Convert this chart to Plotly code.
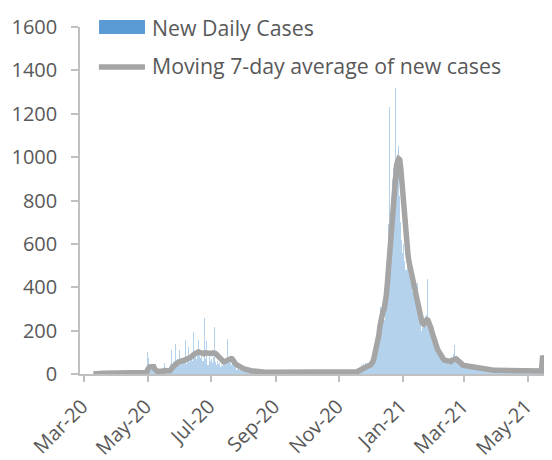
import pandas as pd
import plotly.graph_objects as go

# ---------------- data ----------------
start_date = "2020-03-01"

daily_cases = [
    # Mar 2020
    0, 0, 0, 0, 0, 0, 0, 0, 1, 0, 2, 1, 3, 2, 1, 4, 3, 2, 5, 3, 4, 2, 6, 3, 5, 4, 3, 2, 4, 5, 3,
    # Apr 2020
    3, 5, 4, 6, 2, 5, 7, 4, 3, 6, 5, 4, 8, 3, 5, 6, 4, 7, 5, 3, 6, 4, 5, 8, 3, 2, 6, 4, 9, 12,
    # May 2020
    100, 72, 30, 20, 35, 25, 18, 22, 15, 12, 20, 10, 14, 8, 18, 12, 50, 10, 15, 20, 25, 30, 45, 110,
    40, 55, 60, 138, 45, 70, 50,
    # Jun 2020
    110, 40, 60, 75, 50, 157, 45, 70, 124, 55, 80, 90, 60, 194, 85, 100, 70, 110, 157, 90, 75, 95,
    60, 60, 258, 70, 152, 40, 88, 60,
    # Jul 2020
    70, 50, 80, 217, 55, 40, 60, 45, 50, 30, 40, 35, 60, 55, 70, 45, 161, 60, 50, 78, 40, 55, 30,
    50, 20, 25, 30, 18, 22, 15, 20,
    # Aug 2020
    18, 12, 25, 10, 14, 20, 8, 12, 15, 9, 10, 14, 6, 11, 8, 12, 7, 10, 5, 9, 8, 6, 11, 7, 5, 8, 6,
    9, 4, 7, 5,
    # Sep 2020
    5, 8, 3, 6, 4, 7, 2, 5, 9, 4, 6, 3, 5, 7, 4, 2, 6, 5, 3, 8, 4, 5, 6, 3, 4, 2, 5, 3, 6, 4,
    # Oct 2020
    3, 5, 2, 4, 6, 3, 4, 5, 2, 3, 6, 4, 3, 5, 2, 4, 3, 6, 4, 2, 5, 3, 4, 6, 3, 4, 2, 5, 4, 3, 5,
    # Nov 2020
    3, 4, 5, 2, 6, 4, 3, 5, 4, 6, 3, 5, 4, 6, 5, 8, 12, 20, 15, 25, 30, 40, 35, 45, 30, 50, 40, 35,
    45, 55,
    # Dec 2020
    45, 60, 55, 90, 130, 110, 150, 190, 230, 260, 310, 280, 340, 250, 380, 420, 560, 690, 1230,
    640, 820, 900, 950, 870, 1318, 980, 900, 1050, 820, 700, 620,
    # Jan 2021
    560, 600, 520, 480, 620, 540, 470, 430, 500, 380, 450, 400, 360, 330, 420, 300, 260, 240, 200,
    230, 210, 260, 240, 270, 440, 230, 200, 180, 160, 150, 120,
    # Feb 2021
    130, 110, 95, 100, 80, 70, 75, 60, 65, 55, 60, 50, 70, 45, 55, 60, 80, 70, 90, 134, 60, 55, 40,
    45, 35, 30, 40, 35,
    # Mar 2021
    45, 30, 38, 25, 40, 33, 28, 35, 22, 30, 26, 34, 20, 25, 28, 18, 24, 22, 30, 16, 20, 18, 25, 15,
    22, 17, 19, 14, 20, 16, 18,
    # Apr 2021
    12, 18, 15, 10, 20, 14, 16, 12, 22, 13, 10, 17, 15, 19, 11, 14, 16, 12, 18, 13, 15, 10, 17, 14,
    12, 16, 11, 15, 13, 14,
    # May 2021
    12, 10, 15, 13, 11, 14, 16, 10, 12, 15, 13, 11, 14, 12, 70, 80, 65, 75, 72, 78, 70, 76,
]

moving_avg = [
    # Mar 2020
    None, None, None, None, None, None, None, None, None,
    0, 1, 1, 1, 1, 2, 2, 2, 3, 3, 3, 3, 3, 3, 4, 4, 4, 4, 4, 4, 4, 4,
    # Apr 2020
    4, 4, 4, 4, 5, 5, 5, 5, 5, 5, 5, 5, 5, 5, 5, 5, 5, 5, 5, 5, 5, 5, 5, 5, 5, 5, 5, 5, 6, 7,
    # May 2020
    20, 30, 32, 33, 34, 34, 33, 22, 14, 13, 14, 13, 14, 13, 14, 13, 16, 15, 15, 15, 15, 15, 18, 28,
    32, 36, 40, 48, 50, 52, 55,
    # Jun 2020
    58, 58, 60, 62, 62, 66, 68, 70, 72, 74, 76, 78, 80, 88, 92, 96, 98, 100, 102, 100, 98, 96, 94,
    93, 98, 97, 99, 97, 92, 94,
    # Jul 2020
    96, 95, 97, 98, 95, 92, 86, 78, 70, 64, 60, 57, 56, 57, 60, 62, 66, 68, 70, 71, 70, 66, 58, 50,
    44, 40, 37, 34, 31, 29, 27,
    # Aug 2020
    25, 23, 22, 20, 18, 17, 16, 15, 14, 14, 13, 12, 12, 11, 11, 10, 10, 9, 9, 9, 8, 8, 8, 8, 7, 7,
    7, 7, 6, 6, 6,
    # Sep 2020
    6, 6, 6, 6, 6, 5, 5, 5, 5, 5, 5, 5, 5, 5, 5, 5, 5, 5, 5, 5, 5, 5, 5, 5, 4, 4, 4, 4, 4, 4,
    # Oct 2020
    4, 4, 4, 4, 4, 4, 4, 4, 4, 4, 4, 4, 4, 4, 4, 4, 4, 4, 4, 4, 4, 4, 4, 4, 4, 4, 4, 4, 4, 4, 4,
    # Nov 2020
    4, 4, 4, 4, 4, 4, 4, 4, 4, 4, 4, 4, 4, 4, 4, 5, 7, 10, 13, 16, 19, 22, 26, 29, 31, 33, 35, 36,
    37, 40,
    # Dec 2020
    42, 46, 55, 68, 90, 110, 128, 145, 180, 220, 255, 278, 290, 298, 320, 360, 410, 470, 540, 610,
    690, 770, 840, 900, 940, 965, 980, 992, 988, 950, 890,
    # Jan 2021
    810, 735, 670, 620, 580, 545, 515, 490, 470, 455, 440, 420, 392, 362, 335, 308, 284, 264, 246,
    234, 230, 236, 246, 250, 248, 240, 228, 212, 192, 172, 155,
    # Feb 2021
    140, 128, 118, 108, 98, 88, 80, 74, 68, 64, 62, 60, 60, 58, 57, 58, 62, 66, 70, 72, 70, 66, 60,
    54, 48, 44, 42, 40,
    # Mar 2021
    39, 38, 37, 36, 35, 34, 33, 32, 31, 30, 29, 28, 28, 27, 26, 25, 24, 24, 23, 22, 22, 21, 20, 20,
    19, 19, 18, 18, 17, 17, 17,
    # Apr 2021
    16, 16, 15, 15, 16, 17, 16, 15, 14, 15, 16, 15, 14, 13, 14, 15, 16, 15, 14, 13, 14, 15, 14, 13,
    12, 13, 14, 15, 14, 13,
    # May 2021
    13, 12, 13, 14, 13, 12, 11, 12, 13, 14, 13, 12, 13, 14, 74, 75, 76, 75, 74, 76, 77, 78,
]

y_ticks = [0, 200, 400, 600, 800, 1000, 1200, 1400, 1600]
series_names = ["New Daily Cases", "Moving 7-day average of new cases"]

dates = pd.date_range(start_date, periods=len(daily_cases), freq="D")
assert len(moving_avg) == len(daily_cases)

# ---------------- styling ----------------
FONT = "Open Sans"
TXT = "#595959"
AXIS = "#C0C0C0"
BLUE = "#5B9BD5"
GREY = "#A5A5A5"

fig = go.Figure()
fig.add_trace(go.Bar(
    x=dates, y=daily_cases, name=series_names[0],
    marker=dict(color="rgba(91,155,213,0.45)", line=dict(width=0)),
    showlegend=False,
))
fig.add_trace(go.Scatter(
    x=dates, y=moving_avg, name=series_names[1], mode="lines",
    line=dict(color=GREY, width=5.5),
    showlegend=False,
))

# legend drawn as swatches + text (Excel-like wide swatches)
fig.add_shape(type="rect", xref="paper", yref="paper",
              x0=0.0403, x1=0.1377, y0=0.9798, y1=1.0202,
              fillcolor=BLUE, line=dict(width=0))
fig.add_shape(type="line", xref="paper", yref="paper",
              x0=0.040, x1=0.1377, y0=0.8847, y1=0.8847,
              line=dict(color=GREY, width=5.5))
fig.add_annotation(xref="paper", yref="paper", x=0.1483, y=1.0, text=series_names[0],
                   showarrow=False, xanchor="left", yanchor="middle",
                   font=dict(family=FONT, size=21.3, color=TXT))
fig.add_annotation(xref="paper", yref="paper", x=0.1483, y=0.889, text=series_names[1],
                   showarrow=False, xanchor="left", yanchor="middle",
                   font=dict(family=FONT, size=21.3, color=TXT))

fig.update_layout(
    width=544, height=452,
    margin=dict(l=72, r=0, t=19, b=86, autoexpand=False),
    paper_bgcolor="white", plot_bgcolor="white",
    bargap=0,
    font=dict(family=FONT, size=20, color=TXT),
    xaxis=dict(
        type="date",
        range=["2020-02-26 04:00", "2021-05-24 03:00"],
        tick0="2020-03-01", dtick="M2", tickformat="%b-%y",
        tickangle=-45, automargin=False,
        showline=True, linecolor=AXIS, linewidth=1.5,
        ticks="outside", ticklen=6, tickcolor=AXIS, tickwidth=1.5,
        showgrid=False, zeroline=False,
        tickfont=dict(family=FONT, size=20, color=TXT),
        ticklabelshift=-2, ticklabelstandoff=5,
    ),
    yaxis=dict(
        range=[0, 1600], tickvals=y_ticks, automargin=False,
        showline=True, linecolor=AXIS, linewidth=1.5,
        ticks="outside", ticklen=7, tickcolor=AXIS, tickwidth=1.5,
        showgrid=False, zeroline=False,
        tickfont=dict(family=FONT, size=20, color=TXT),
        ticklabelstandoff=10,
    ),
)

fig.write_html("out.html")
